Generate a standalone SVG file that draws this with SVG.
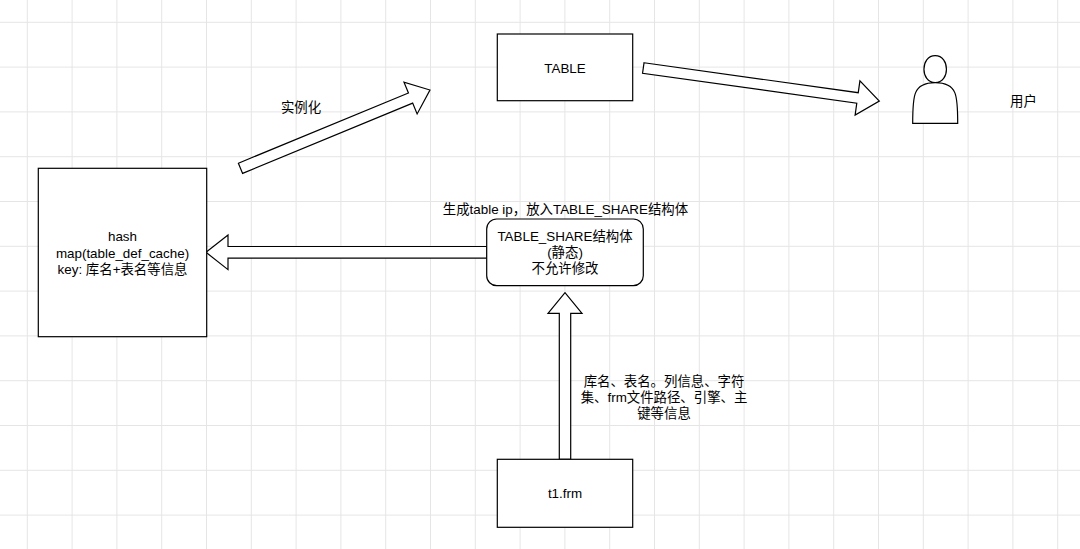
<svg xmlns="http://www.w3.org/2000/svg" width="1080" height="549" viewBox="0 0 1080 549">
<style>
.box{fill:#fff;stroke:#000;stroke-width:1.2}
.arr{fill:#fff;stroke:#000;stroke-width:1.2;stroke-linejoin:miter}
.t{font-family:"Liberation Sans","Noto Sans CJK SC",sans-serif;font-size:13.4px;fill:#000;text-anchor:middle}
</style>
<defs>
<pattern id="grid" patternUnits="userSpaceOnUse" x="26.8" y="21.8" width="44.8" height="44.8">
<rect x="0" y="0" width="44.8" height="1" fill="#e5e5e5"/>
<rect x="0" y="0" width="1" height="44.8" fill="#e5e5e5"/>
</pattern>
</defs>
<rect width="1080" height="549" fill="#fff"/>
<rect width="1080" height="549" fill="url(#grid)"/>
<g id="connectors">
<polygon class="arr" transform="translate(240.5,168.3) rotate(-22.45)" points="0,-5.5 184,-5.5 184,-17.2 205,0 184,17.2 184,5.5 0,5.5"/>
<polygon class="arr" transform="translate(643.3,68) rotate(7.96)" points="0,-5.3 216.3,-5.3 216.3,-17.3 238.3,0 216.3,17.3 216.3,5.3 0,5.3"/>
<polygon class="arr" points="487,246.5 228,246.5 228,235 206,252.3 228,269.6 228,258.1 487,258.1"/>
<polygon class="arr" points="559.3,459.3 559.3,313.3 548,313.3 565,292.7 582,313.3 570.7,313.3 570.7,459.3"/>
<text class="t" x="301" y="111.8">实例化</text>
<text class="t" x="565.5" y="213.7">生成table ip，放入TABLE_SHARE结构体</text>
<text class="t" x="664" y="386.4">库名、表名。列信息、字符</text>
<text class="t" x="664" y="402.4">集、frm文件路径、引擎、主</text>
<text class="t" x="664" y="418.4">键等信息</text>
</g>
<g id="table">
<rect class="box" x="497.3" y="34" width="135.4" height="66.7"/>
<text class="t" x="565" y="72.5">TABLE</text>
</g>
<g id="user">
<path class="box" d="M912.7,123.3 C912.7,96.3 912.7,82.7 935.2,82.7 C920.2,82.7 920.2,55.7 935.2,55.7 C950.2,55.7 950.2,82.7 935.2,82.7 C957.7,82.7 957.7,96.3 957.7,123.3 Z"/>
<text class="t" x="1023.5" y="105.7">用户</text>
</g>
<g id="hash">
<rect class="box" x="38.3" y="168.3" width="168.4" height="168.4"/>
<text class="t" x="122.5" y="241.4">hash</text>
<text class="t" x="122.5" y="257.7">map(table_def_cache)</text>
<text class="t" x="122.5" y="274">key: 库名+表名等信息</text>
</g>
<g id="table_share">
<rect class="box" x="486.7" y="219" width="156.6" height="66.7" rx="10" ry="10"/>
<text class="t" x="565" y="241.4">TABLE_SHARE结构体</text>
<text class="t" x="565" y="257.4">(静态)</text>
<text class="t" x="565" y="273.4">不允许修改</text>
</g>
<g id="t1frm">
<rect class="box" x="497.3" y="459.3" width="135.4" height="68"/>
<text class="t" x="565" y="498">t1.frm</text>
</g>
</svg>
